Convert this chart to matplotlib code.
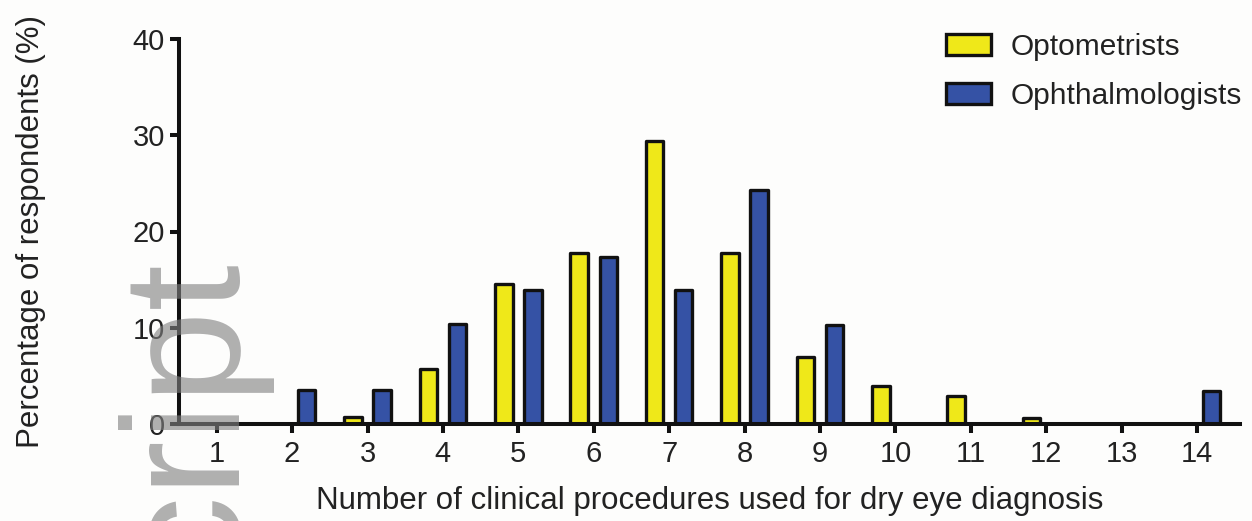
import matplotlib
matplotlib.use("Agg")
import matplotlib.pyplot as plt
import numpy as np

plt.rcParams['font.family'] = ['Liberation Sans', 'DejaVu Sans']

categories = list(range(1, 15))
tick_labels = [str(c) for c in categories]
optometrists = [0, 0, 0.7, 5.7, 14.5, 17.8, 29.4, 17.8, 7.0, 4.0, 2.9, 0.6, 0, 0]
ophthalmologists = [0, 3.5, 3.5, 10.4, 13.9, 17.3, 13.9, 24.3, 10.3, 0, 0, 0, 0, 3.4]
series_names = ["Optometrists", "Ophthalmologists"]
yticks = [0, 10, 20, 30, 40]

yellow = '#EFE819'
blue = '#3552A5'

W, H = 1252, 521
fig = plt.figure(figsize=(W/100, H/100), dpi=100)
fig.patch.set_facecolor('#FDFDFC')
ax = fig.add_axes([179/W, 1-424/H, 1061/W, 385/H])
ax.set_facecolor('none')

x = np.array(categories, dtype=float)
w = 0.232
lw = 2.4
ax.bar(x - 0.193, optometrists, width=w, color=yellow, edgecolor='#111111',
       linewidth=lw, joinstyle='round', label=series_names[0])
ax.bar(x + 0.193, ophthalmologists, width=w, color=blue, edgecolor='#111111',
       linewidth=lw, joinstyle='round', label=series_names[1])

ax.set_xlim(0.50, 14.57)
ax.set_ylim(0, 40)
ax.set_xticks(categories)
ax.set_xticklabels(tick_labels)
ax.set_yticks(yticks)
for s in ['top', 'right']:
    ax.spines[s].set_visible(False)
for s in ['left', 'bottom']:
    ax.spines[s].set_linewidth(2.9)
    ax.spines[s].set_color('#111111')
    ax.spines[s].set_capstyle('projecting')
ax.tick_params(axis='both', direction='out', length=6.5, width=2.9, color='#111111',
               labelsize=21, labelcolor='#222222')
ax.tick_params(axis='x', pad=5)
ax.tick_params(axis='y', pad=3.6)

ax.set_xlabel("Number of clinical procedures used for dry eye diagnosis", fontsize=22.5, color='#222222')
ax.xaxis.set_label_coords(0.5, -0.161)
ax.xaxis.label.set_va('top')
ax.set_ylabel("Percentage of respondents (%)", fontsize=22.5, color='#222222')
ax.yaxis.set_label_coords(-0.125, 0.5)

leg = ax.legend(loc='upper left', bbox_to_anchor=(946/W, 1-33/H), bbox_transform=fig.transFigure,
                frameon=False, fontsize=21.5, handlelength=1.5, handleheight=0.67,
                handletextpad=0.65, labelspacing=0.7, borderaxespad=0, borderpad=0)
for t in leg.get_texts():
    t.set_color('#222222')

# watermark
fig.text(226/W, 1-250/H, "Manuscript", rotation=90, rotation_mode='anchor',
         ha='right', va='baseline', fontsize=120, color='#808080', alpha=0.62, zorder=10)

fig.savefig("out.png", dpi=100, facecolor=fig.get_facecolor())
